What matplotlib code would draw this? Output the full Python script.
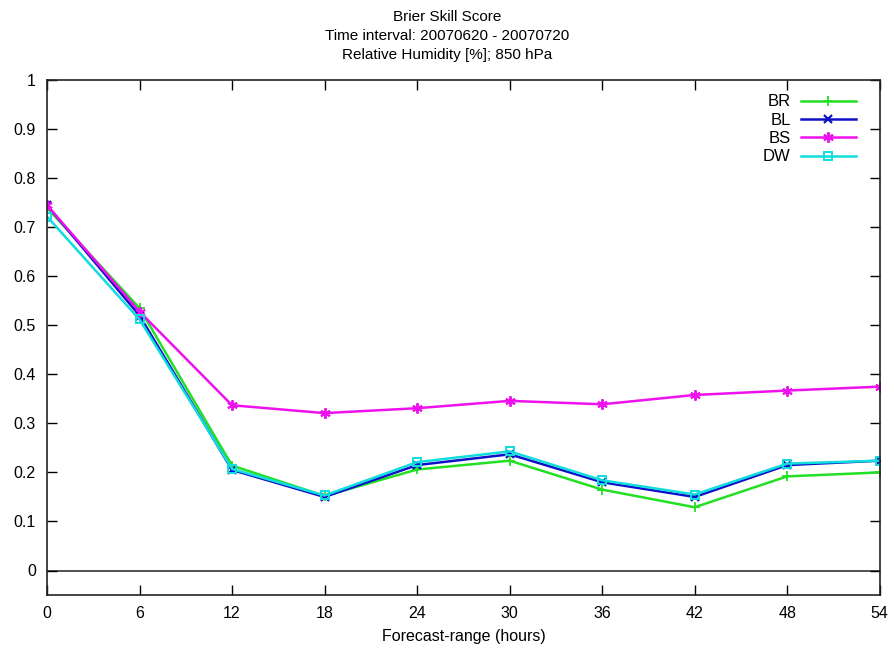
import matplotlib
matplotlib.use("Agg")
import matplotlib.pyplot as plt

plt.rcParams['font.family'] = ['Liberation Sans', 'DejaVu Sans']

# Forecast range (hours)
hours = [0, 6, 12, 18, 24, 30, 36, 42, 48, 54]

# Brier skill score per experiment
bss_br = [0.740, 0.535, 0.214, 0.152, 0.206, 0.224, 0.165, 0.129, 0.192, 0.200]
bss_bl = [0.745, 0.520, 0.205, 0.150, 0.215, 0.237, 0.180, 0.150, 0.215, 0.224]
bss_bs = [0.745, 0.528, 0.337, 0.321, 0.331, 0.346, 0.339, 0.358, 0.367, 0.375]
bss_dw = [0.722, 0.512, 0.207, 0.153, 0.221, 0.243, 0.184, 0.155, 0.218, 0.224]

y_ticks = [0, 0.1, 0.2, 0.3, 0.4, 0.5, 0.6, 0.7, 0.8, 0.9, 1]
y_labels = ["0", "0.1", "0.2", "0.3", "0.4", "0.5", "0.6", "0.7", "0.8", "0.9", "1"]

fig = plt.figure(figsize=(8.95, 6.52), dpi=100)
ax = fig.add_axes([0.0525, 0.0874, 0.9305, 0.7896])

asterisk = (6, 2, 0)
ax.plot(hours, bss_br, color='#22e022', lw=1.8, marker='+', ms=7, mew=1.3, label='BR')
ax.plot(hours, bss_bl, color='#1010c8', lw=1.8, marker='x', ms=6, mew=1.6, label='BL')
ax.plot(hours, bss_bs, color='#ee11ee', lw=1.8, marker=asterisk, ms=7.5, mew=1.4, label='BS')
ax.plot(hours, bss_dw, color='#11dddd', lw=1.8, marker='s', ms=6, mew=1.4,
        mfc='none', label='DW')

ax.axhline(0, color='#333333', lw=1.2, zorder=0)

ax.set_xlim(0, 54)
ax.set_ylim(-0.05, 1)
ax.set_xticks(hours)
ax.set_yticks(y_ticks)
ax.set_yticklabels(y_labels)
ax.tick_params(direction='in', length=7, width=1, top=True, right=True,
               labelsize=11.5, pad=8)
for side in ax.spines.values():
    side.set_linewidth(1.2)
    side.set_color('#222222')

ax.set_xlabel('Forecast-range (hours)', fontsize=11.5, labelpad=6)
fig.suptitle('Brier Skill Score\nTime interval: 20070620 - 20070720\nRelative Humidity [%]; 850 hPa',
             fontsize=11, y=0.984, linespacing=1.45)

ax.legend(loc='upper right', bbox_to_anchor=(0.985, 0.995), frameon=False,
          markerfirst=False, fontsize=12, handlelength=3.3, labelspacing=0.2,
          handletextpad=0.6, borderaxespad=0.3)

fig.savefig('out.png', dpi=100)
